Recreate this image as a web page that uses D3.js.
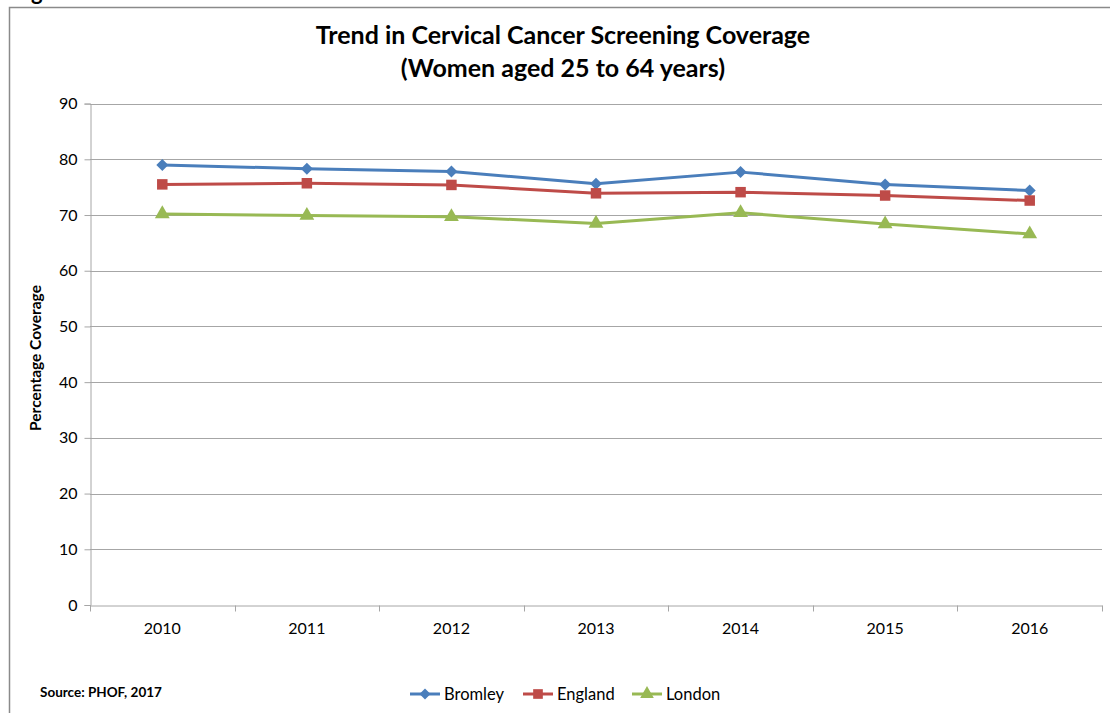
<!DOCTYPE html>
<html>
<head>
<meta charset="utf-8">
<script src="https://cdn.jsdelivr.net/npm/d3@7"></script>
<style>
  body { margin: 0; background: #fff; }
  svg { display: block; font-family: Lato, "Open Sans", sans-serif; }
</style>
</head>
<body>
<svg width="1110" height="713"></svg>
<script>
var years = ["2010", "2011", "2012", "2013", "2014", "2015", "2016"];
var bromley = [79.0, 78.3, 77.8, 75.6, 77.7, 75.5, 74.4];
var england = [75.5, 75.7, 75.4, 73.9, 74.1, 73.5, 72.6];
var london = [70.2, 69.9, 69.7, 68.5, 70.4, 68.4, 66.6];
var yTicks = [0, 10, 20, 30, 40, 50, 60, 70, 80, 90];

// diamonds are drawn as squares turned by 45 degrees
var series = [
  { name: "Bromley", values: bromley, color: "#4a7ebb", shape: d3.symbolSquare, size: 72, rotate: 45 },
  { name: "England", values: england, color: "#be4b48", shape: d3.symbolSquare, size: 110, rotate: 0 },
  { name: "London", values: london, color: "#98b954", shape: d3.symbolTriangle, size: 95, rotate: 0 }
];

var svg = d3.select("svg");
var plotLeft = 90, plotRight = 1102, plotTop = 103.6, plotBottom = 605;

var x = d3.scaleBand().domain(years).range([plotLeft, plotRight]).padding(0);
var y = d3.scaleLinear().domain([0, 90]).range([plotBottom, plotTop]);

// cut-off heading and outer frame
svg.append("text")
  .attr("x", 13).attr("y", -0.5)
  .attr("font-size", 22).attr("font-weight", "bold")
  .text("Figure 3");
svg.append("path")
  .attr("d", "M9.5,713V7.5H1110")
  .attr("fill", "none").attr("stroke", "#8a8a8a").attr("stroke-width", 1.5);

// title
svg.append("text")
  .attr("x", 563).attr("y", 44)
  .attr("text-anchor", "middle")
  .attr("font-size", 25).attr("font-weight", "bold")
  .text("Trend in Cervical Cancer Screening Coverage");
svg.append("text")
  .attr("x", 563).attr("y", 77)
  .attr("text-anchor", "middle")
  .attr("font-size", 25).attr("font-weight", "bold")
  .text("(Women aged 25 to 64 years)");

// gridlines
svg.append("g")
  .selectAll("line")
  .data(yTicks.filter(function(d) { return d > 0; }))
  .enter().append("line")
  .attr("x1", plotLeft).attr("x2", plotRight)
  .attr("y1", function(d) { return Math.round(y(d)) + 0.5; })
  .attr("y2", function(d) { return Math.round(y(d)) + 0.5; })
  .attr("stroke", "#a6a6a6").attr("stroke-width", 1);

// y axis
var yAxis = svg.append("g")
  .attr("transform", "translate(" + (plotLeft + 0.5) + ",0)")
  .call(d3.axisLeft(y).tickValues(yTicks).tickSize(6).tickPadding(7));
yAxis.select(".domain").attr("stroke", "#a6a6a6");
yAxis.selectAll(".tick line").attr("stroke", "#a6a6a6");
yAxis.selectAll("text").attr("font-size", 16).attr("font-family", "Lato, sans-serif").attr("fill", "#000");

// x axis
var xAxis = svg.append("g")
  .attr("transform", "translate(0," + (plotBottom + 0.5) + ")")
  .call(d3.axisBottom(x).tickSize(0).tickPadding(17));
xAxis.select(".domain").attr("stroke", "#a6a6a6");
xAxis.selectAll("text").attr("font-size", 16).attr("font-family", "Lato, sans-serif").attr("fill", "#000");
xAxis.selectAll(".sep")
  .data(years.concat(["end"]))
  .enter().append("line")
  .attr("class", "sep")
  .attr("x1", function(d, i) { return Math.round(plotLeft + i * x.bandwidth()) + 0.5; })
  .attr("x2", function(d, i) { return Math.round(plotLeft + i * x.bandwidth()) + 0.5; })
  .attr("y1", 0).attr("y2", 6)
  .attr("stroke", "#a6a6a6");

// axis title
svg.append("text")
  .attr("transform", "translate(41,358) rotate(-90)")
  .attr("text-anchor", "middle")
  .attr("font-size", 15.5).attr("font-weight", "bold")
  .text("Percentage Coverage");

// lines and markers
var line = d3.line()
  .x(function(d, i) { return x(years[i]) + x.bandwidth() / 2; })
  .y(function(d) { return y(d); });

series.forEach(function(s) {
  svg.append("path")
    .datum(s.values)
    .attr("d", line)
    .attr("fill", "none")
    .attr("stroke", s.color)
    .attr("stroke-width", 3)
    .attr("stroke-linejoin", "round");
  svg.append("g")
    .selectAll("path")
    .data(s.values)
    .enter().append("path")
    .attr("d", d3.symbol().type(s.shape).size(s.size))
    .attr("transform", function(d, i) {
      return "translate(" + (x(years[i]) + x.bandwidth() / 2) + "," + y(d) + ") rotate(" + s.rotate + ")";
    })
    .attr("fill", s.color);
});

// source note
svg.append("text")
  .attr("x", 40).attr("y", 697)
  .attr("font-size", 13.5).attr("font-weight", "bold")
  .text("Source: PHOF, 2017");

// legend
var legendX = [410, 523, 632];
var legend = svg.append("g").selectAll("g")
  .data(series)
  .enter().append("g")
  .attr("transform", function(d, i) { return "translate(" + legendX[i] + ",694)"; });
legend.append("line")
  .attr("x1", 0).attr("x2", 30)
  .attr("stroke", function(d) { return d.color; })
  .attr("stroke-width", 3);
legend.append("path")
  .attr("d", function(d) { return d3.symbol().type(d.shape).size(d.size * 0.85)(); })
  .attr("transform", function(d) { return "translate(15,0) rotate(" + d.rotate + ")"; })
  .attr("fill", function(d) { return d.color; });
legend.append("text")
  .attr("x", 34).attr("y", 6)
  .attr("font-size", 16.5)
  .text(function(d) { return d.name; });
</script>
</body>
</html>
